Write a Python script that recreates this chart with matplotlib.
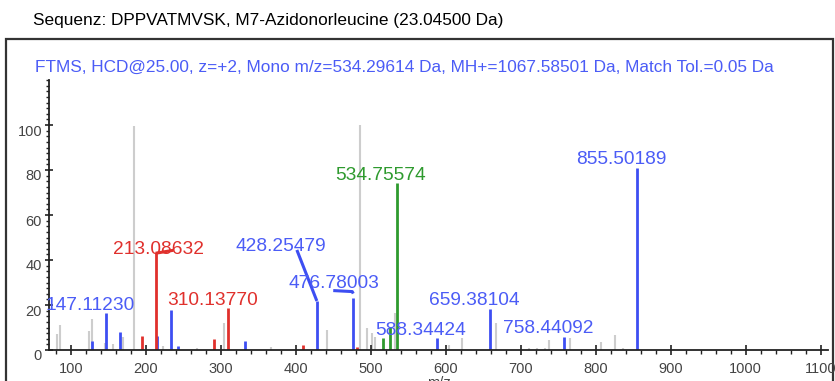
import matplotlib
matplotlib.use("Agg")
import matplotlib.pyplot as plt
from matplotlib.patches import Rectangle
from matplotlib.ticker import MultipleLocator
from matplotlib.transforms import ScaledTranslation

plt.rcParams['font.family'] = ['Liberation Sans', 'DejaVu Sans']

header = "Sequenz: DPPVATMVSK, M7-Azidonorleucine (23.04500 Da)"
title = "FTMS, HCD@25.00, z=+2, Mono m/z=534.29614 Da, MH+=1067.58501 Da, Match Tol.=0.05 Da"

# unannotated peaks (gray)
gray_mz = [82, 86, 124, 128, 145.5, 157, 170, 184.2, 222.7, 268, 303.8, 367, 441.5,
           485.8, 495.5, 501.3, 506, 532, 605, 622.5, 667, 711, 722, 733, 738,
           765.8, 807, 825.8, 837, 904]
gray_int = [7, 11, 8.5, 14, 3, 2.5, 6, 99.5, 2, 1, 12, 1.5, 9,
            100, 9.6, 7.4, 6, 16.5, 2.2, 5.2, 11.9, 0.7, 1, 0.8, 4.4,
            5.2, 3.7, 6.7, 1, 0.4]

# b/y ion series
blue_mz = [128.9, 147.11230, 165.8, 214.7, 233.5, 243.6, 332.4, 428.25479,
           476.78003, 588.34424, 659.38104, 758.44092, 855.50189]
blue_int = [4.1, 16.3, 8.1, 6.2, 17.8, 1.8, 4.0, 21.8, 23.3, 5.2, 18.4, 6.0, 80.9]

red_mz = [195.5, 213.08632, 291.6, 310.13770, 409.3, 481.3]
red_int = [6.2, 43.0, 4.7, 18.5, 2.2, 1.5]

green_mz = [517.0, 525.8, 534.75574]
green_int = [5.2, 10.4, 74.2]

# annotated peaks
label_mz = [147.11230, 213.08632, 310.13770, 428.25479, 476.78003, 534.75574,
            588.34424, 659.38104, 758.44092, 855.50189]
label_int = [16.3, 43.0, 18.5, 21.8, 23.3, 74.2, 5.2, 18.4, 6.0, 80.9]
label_series = ['b', 'r', 'r', 'b', 'b', 'g', 'b', 'b', 'b', 'b']

xticks = [100, 200, 300, 400, 500, 600, 700, 800, 900, 1000, 1100]
yticks = [0, 20, 40, 60, 80, 100]

BLUE = '#3d4ef2'
BLUE_T = '#4b5cf6'
RED = '#e0302c'
GREEN = '#2e9a2e'
GRAY = '#cdcdcd'
colmap = {'b': (BLUE, BLUE_T), 'r': (RED, RED), 'g': (GREEN, GREEN)}

# label offsets (pixels) of label centre from the peak top, and connector end
label_off = {213.08632: (3, 4), 428.25479: (-36, 54), 476.78003: (-19, 14)}
conn_off = {213.08632: [(0, 0), (18, 3)],
            428.25479: [(0, 0), (-20, 51)],
            476.78003: [(0, 4), (-1, 6), (-20, 7)]}

fig = plt.figure(figsize=(8.35, 3.81), dpi=100)
W, H = 835, 381
ax = fig.add_axes([49 / W, 1 - 350 / H, (828 - 49) / W, (350 - 80) / H])

ax.vlines(gray_mz, 0, gray_int, colors=GRAY, lw=1.5, zorder=1)
ax.vlines(blue_mz, 0, blue_int, colors=BLUE, lw=2.0, zorder=2)
ax.vlines(red_mz, 0, red_int, colors=RED, lw=2.0, zorder=2)
ax.vlines(green_mz, 0, green_int, colors=GREEN, lw=2.0, zorder=2)

ax.set_xlim(71, 1110)
ax.set_ylim(0, 120)

for mz, it, s in zip(label_mz, label_int, label_series):
    lc, tc = colmap[s]
    dx, dy = label_off.get(mz, (-16, 8))
    ax.annotate(f"{mz:.5f}", xy=(mz, it), xytext=(dx, dy), textcoords='offset pixels',
                ha='center', va='center', fontsize=13.8, color=tc, zorder=4)
    if mz in conn_off:
        pts = conn_off[mz]
        disp = ax.transData.transform((mz, it))
        xs, ys = [], []
        for px, py in pts:
            d = ax.transData.inverted().transform((disp[0] + px, disp[1] + py))
            xs.append(d[0]); ys.append(d[1])
        ax.plot(xs, ys, color=lc, lw=2.2, solid_capstyle='butt', zorder=3)

for sp in ['top', 'right']:
    ax.spines[sp].set_visible(False)
for sp in ['left', 'bottom']:
    ax.spines[sp].set_color('#222222')
    ax.spines[sp].set_linewidth(1.3)

ax.set_xticks(xticks)
ax.set_yticks(yticks)
ax.xaxis.set_minor_locator(MultipleLocator(20))
ax.yaxis.set_minor_locator(MultipleLocator(2.5))
ax.tick_params(axis='x', which='major', direction='inout', length=7, width=1.2,
               colors='#222222', labelcolor='#444444', labelsize=10.5, pad=5)
ax.tick_params(axis='x', which='minor', direction='out', length=3, width=1.0, colors='#222222')
ax.tick_params(axis='y', which='major', direction='inout', length=6, width=1.2,
               colors='#222222', labelcolor='#444444', labelsize=10.5, pad=2)
ax.tick_params(axis='y', which='minor', direction='out', length=2.5, width=1.0, colors='#222222')
for lab in ax.get_yticklabels():
    lab.set_transform(lab.get_transform() + ScaledTranslation(0, -5 / 100, fig.dpi_scale_trans))

ax.set_xlabel("m/z", fontsize=10.5, color='#444444', labelpad=0)

fig.text(33 / W, 1 - 20 / H, header, fontsize=12.4, color='black', ha='left', va='center')
fig.text(35 / W, 1 - 67 / H, title, fontsize=12.4, color=BLUE_T, ha='left', va='center')

fig.add_artist(Rectangle((6 / W, -0.05), (833 - 6) / W, (1 - 39 / H) + 0.05,
                         transform=fig.transFigure, fill=False, edgecolor='#333333',
                         lw=1.6, zorder=0))

fig.savefig("out.png", dpi=100)
